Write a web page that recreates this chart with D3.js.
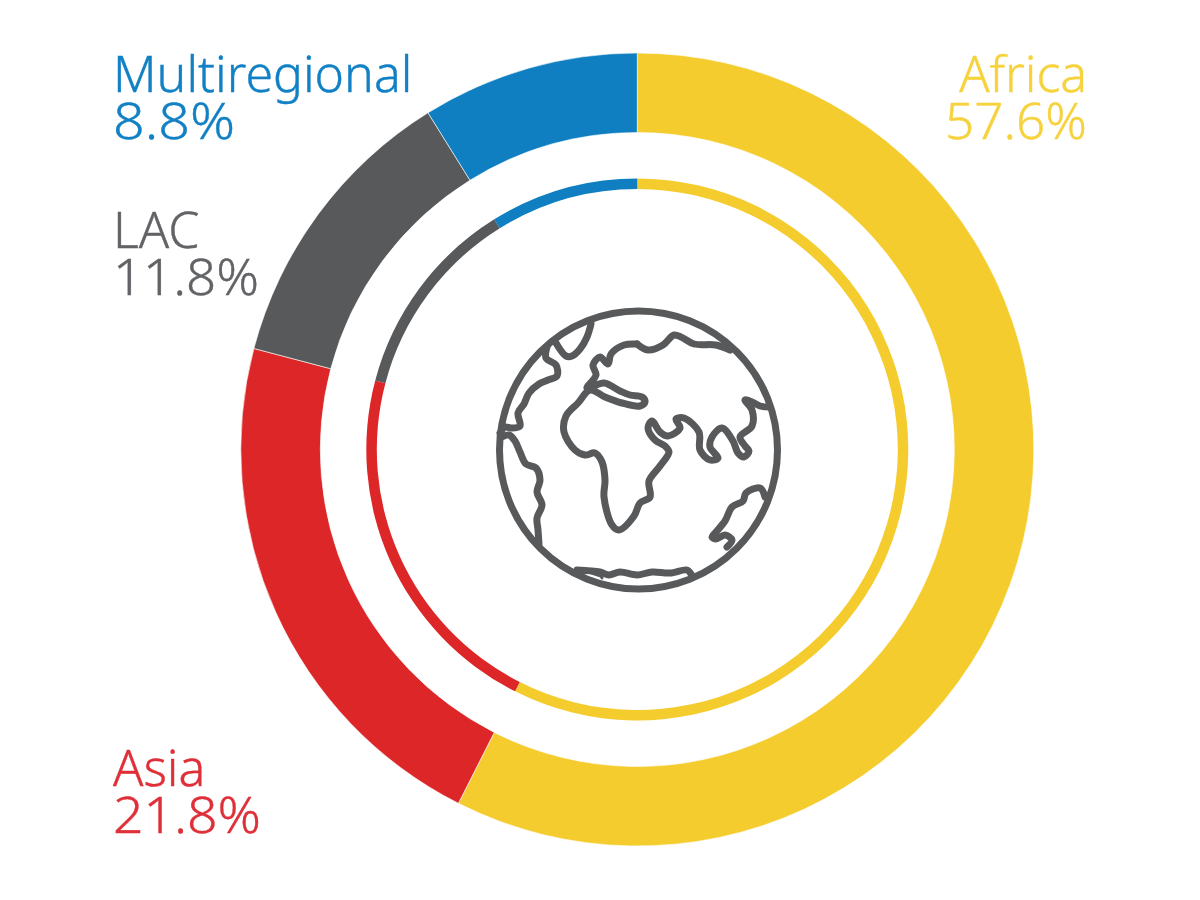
<!DOCTYPE html>
<html><head><meta charset="utf-8">
<script src="https://cdn.jsdelivr.net/npm/d3@7"></script>
<style>html,body{margin:0;padding:0;background:#fff}svg{display:block}</style>
</head><body><svg id="c" width="1200" height="900"></svg>
<script>
const categories=["Africa","Asia","LAC","Multiregional"];
const shares=[57.45,21.65,12.05,8.85];
const shareLabels=["57.6%","21.8%","11.8%","8.8%"];
const colors=["#F5CC2E","#DC2628","#58595B","#0F7FC1"];
const textColors=["#F6D23C","#DF2F38","#626366","#1180C4"];
const labelAnchors=["end","start","start","start"];
const labelX=[1087,113,113,113];
const labelY=[92,786,248,92];
const shareWidths=[142,148,146,122];

// Globe outline traced from the icon
const greenland=[[591,324],[587,337],[580,349],[572,356],[566,356],[556,343]];
const americas=[[547,347],[546,358],[556,365],[557,376],[548,380],[539,384],[529,393],[524,404],[518,413],[520,426],[511,428],[505,427],[500,433]];
const americas2=[[502,437],[509,435],[515,441],[520,452],[526,464],[536,468],[540,480],[537,492],[542,505],[537,518],[538,530],[539,544]];
const eurasiaAfrica=[[637,344],[624,345],[611,354],[608,364],[600,357],[593,365],[596,375],[587,388],[604,383],[620,391],[630,395],[642,397],[645,402],[640,406],[622,403],[605,397],[590,390],[578,403],[566,416],[564,432],[575,450],[585,455],[595,453],[602,462],[605,480],[604,497],[612,525],[619,530],[634,516],[640,503],[650,497],[649,481],[660,466],[669,452],[665,446],[655,440],[648,428],[652,421],[660,432],[668,436],[680,428],[676,419],[684,418],[699,432],[700,450],[710,460],[718,458],[710,447],[712,437],[722,428],[733,441],[738,453],[744,457],[749,451],[745,446],[740,437],[752,426],[752,410],[745,400],[752,402],[760,406],[769,407]];
const asiaTop=[[637,344],[648,350],[663,345],[674,335],[681,337],[694,344],[716,345],[730,350]];
const australia=[[765,497],[760,488],[746,493],[743,501],[732,507],[725,521],[716,532],[712,537],[716,539],[725,535],[732,540],[727,547]];
const antarctica=[[577,570],[600,572],[609,575],[620,572],[637,575],[652,572],[670,573],[687,570],[691,574]];
const wedge=[[577,570],[600,572],[602,578]];

const svg=d3.select("#c");
const cx=637.3,cy=449.5;
const g=svg.append("g").attr("transform",`translate(${cx},${cy})`);
const pie=d3.pie().sort(null).value(d=>d)(shares);
const rings=[{o:396.5,i:317},{o:271,i:260.5}];
rings.forEach((r,k)=>{
  const arc=d3.arc().outerRadius(r.o).innerRadius(r.i);
  g.selectAll(null).data(pie).join("path")
   .attr("d",arc).attr("fill",(d,i)=>colors[i])
   .attr("stroke",k===0?"#fff":"none").attr("stroke-width",k===0?0.6:0);
});

const icon=svg.append("g").attr("fill","none").attr("stroke","#58595B")
  .attr("stroke-width",7).attr("stroke-linecap","round").attr("stroke-linejoin","round");
icon.append("circle").attr("cx",638.5).attr("cy",450).attr("r",139);
const coast=d3.line().curve(d3.curveCatmullRom.alpha(0.5));
[greenland,americas,americas2,eurasiaAfrica,asiaTop,australia,antarctica].forEach(p=>icon.append("path").attr("d",coast(p)));
icon.append("path").attr("d",d3.line()(wedge)).attr("fill","#58595B").attr("stroke-width",3);

const text=svg.append("g").attr("font-family","'Noto Sans', sans-serif").attr("font-weight",300).attr("font-size",50).attr("stroke-width",0.4);
categories.forEach((c,i)=>{
  text.append("text").attr("x",labelX[i]).attr("y",labelY[i]).attr("text-anchor",labelAnchors[i])
    .attr("fill",textColors[i]).attr("stroke",textColors[i]).text(c);
  text.append("text").attr("x",labelX[i]).attr("y",labelY[i]+47).attr("text-anchor",labelAnchors[i])
    .attr("fill",textColors[i]).attr("stroke",textColors[i])
    .attr("textLength",shareWidths[i]).attr("lengthAdjust","spacingAndGlyphs").text(shareLabels[i]);
});
</script></body></html>
